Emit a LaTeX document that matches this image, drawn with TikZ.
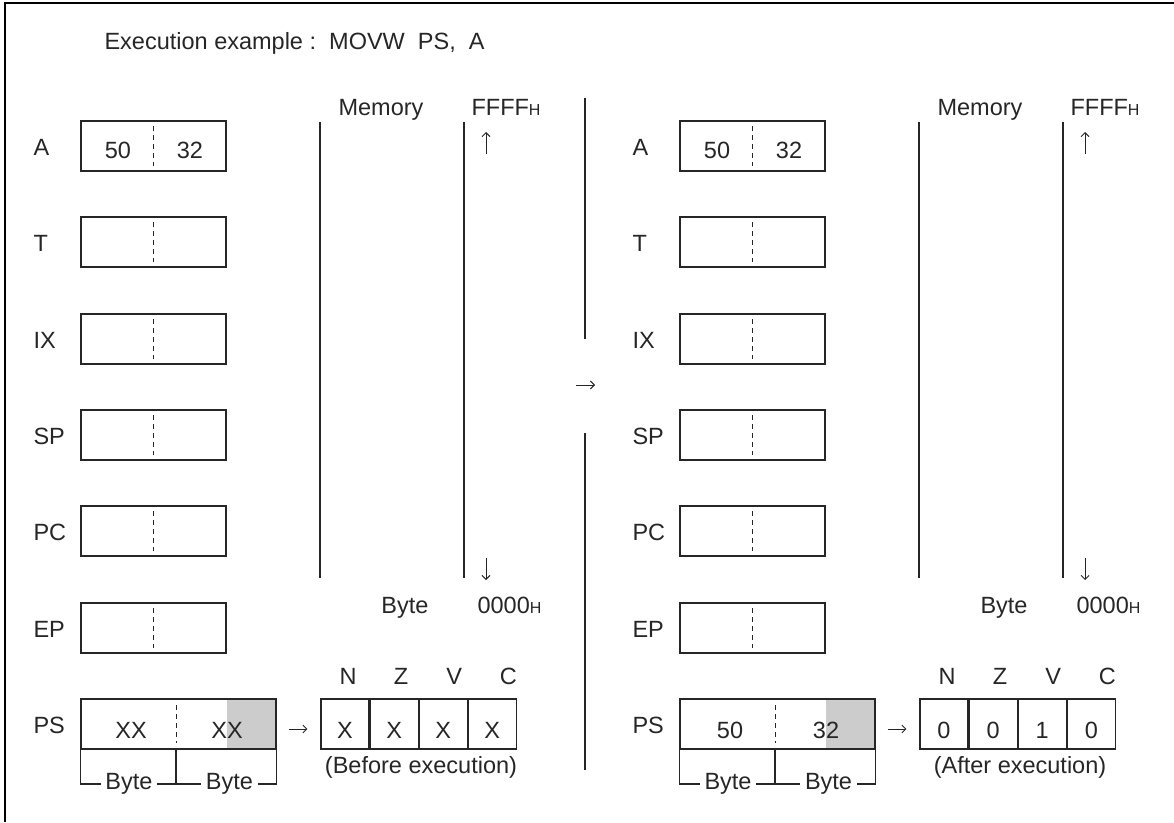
\documentclass[tikz,border=0pt]{standalone}
\usepackage{fontspec}
\setmainfont{Liberation Sans}
\usetikzlibrary{positioning,arrows.meta}

% small "H" suffix of hex numbers
\newcommand{\hexh}{{\fontsize{16}{16}\selectfont H}}

\begin{document}
\begin{tikzpicture}[x=1pt, y=-1pt, line width=1.1pt, black!85,
    font=\fontsize{23.5}{28}\selectfont,
    regbox/.style={draw, minimum width=145pt, minimum height=50pt, inner sep=0pt},
    psbox/.style={draw, minimum width=195pt, minimum height=50pt, inner sep=0pt},
    flagcell/.style={draw, minimum width=48pt, minimum height=50pt, inner sep=0pt},
    divider/.style={dashed, dash pattern=on 5pt off 4pt, line width=0.9pt},
    arr/.style={line width=0.9pt, -{Straight Barb[length=4pt, width=8pt]}},
    txt/.style={inner sep=1pt}]

  \useasboundingbox (0,0) rectangle (1174,822);

  % ---------- frame ----------
  \draw[line width=2pt, black] (5,822) |- (1174,3);

  \node[txt, anchor=base west] (title) at (103,49) {Execution example :\ \ MOVW\ \ PS,\ \ A};

  % ---------- middle separator ----------
  \draw (585,98) -- (585,339);
  \draw (585,433) -- (585,770);
  \draw[arr] (576,385) -- (595,385);

  % ---------- before / after ----------
  \foreach \s/\dx/\hi/\lo/\fn/\fz/\fv/\fc/\cap in
      {b/0/XX/XX/X/X/X/X/Before execution, a/599/50/32/0/0/1/0/After execution}{

    % registers
    \foreach \r/\y in {A/146, T/242, IX/339, SP/435, PC/531, EP/628}{
      \node[regbox] (\r\s) at (153.5+\dx,\y) {};
      \node[txt, anchor=west] (lbl\r\s) at (32+\dx,\y+1) {\r};
      \draw[divider] ([yshift=-6pt]\r\s.north) -- ([yshift=6pt]\r\s.south);
    }
    \node[txt] (valhA\s) at (118+\dx,150) {50};
    \node[txt] (vallA\s) at (190+\dx,150) {32};

    % memory map
    \draw (320+\dx,122) -- (320+\dx,578);
    \draw (464+\dx,122) -- (464+\dx,578);
    \node[txt, anchor=base] (mem\s) at (381+\dx,115) {Memory};
    \node[txt, anchor=base west] (top\s) at (470+\dx,115) {FFFF\hexh};
    \node[txt, anchor=base] (byte\s) at (405+\dx,613) {Byte};
    \node[txt, anchor=base west] (bot\s) at (476+\dx,613) {0000\hexh};
    \draw[arr] (486+\dx,154) -- (486+\dx,132);
    \draw[arr] (486+\dx,558) -- (486+\dx,580);

    % PS register
    \fill[black!20] (226.7+\dx,699) rectangle (276+\dx,749);
    \node[psbox] (PS\s) at (178.5+\dx,724) {};
    \node[txt, anchor=west] (lblPS\s) at (32+\dx,725) {PS};
    \node[txt] (hi\s) at (131+\dx,730) {\hi};
    \node[txt] (lo\s) at (227+\dx,730) {\lo};
    \draw[divider] (176+\dx,705) -- (176+\dx,743);
    \coordinate (mid\s) at (176+\dx,749);

    \node[txt] (byteL\s) at (129+\dx,784) {Byte};
    \node[txt] (byteR\s) at (229.5+\dx,784) {Byte};
    \draw (PS\s.south west) |- ([xshift=-3pt]byteL\s.west);
    \draw ([xshift=3pt]byteL\s.east) -- ([xshift=-3pt]byteR\s.west);
    \draw (mid\s) -- (mid\s |- byteL\s);
    \draw (PS\s.south east) |- ([xshift=3pt]byteR\s.east);

    % condition code flags
    \node[flagcell] (N\s) at (345+\dx,724) {};
    \node[flagcell, right=0pt of N\s] (Z\s) {};
    \node[flagcell, right=0pt of Z\s] (V\s) {};
    \node[flagcell, right=0pt of V\s] (C\s) {};
    \foreach \f/\v/\sh in {N/\fn/3, Z/\fz/7, V/\fv/11, C/\fc/16}{
      \node[txt] (val\f\s) at ([yshift=-6pt]\f\s.center) {\v};
      \node[txt] (name\f\s) at ([xshift=\sh pt, yshift=48pt]\f\s.center) {\f};
    }
    \node[txt] (cap\s) at (421+\dx,767) {(\cap)};

    \draw[arr, shorten <=12pt, shorten >=13pt] ([yshift=-5pt]PS\s.east) -- ([yshift=-5pt]N\s.west);
  }

\end{tikzpicture}
\end{document}
